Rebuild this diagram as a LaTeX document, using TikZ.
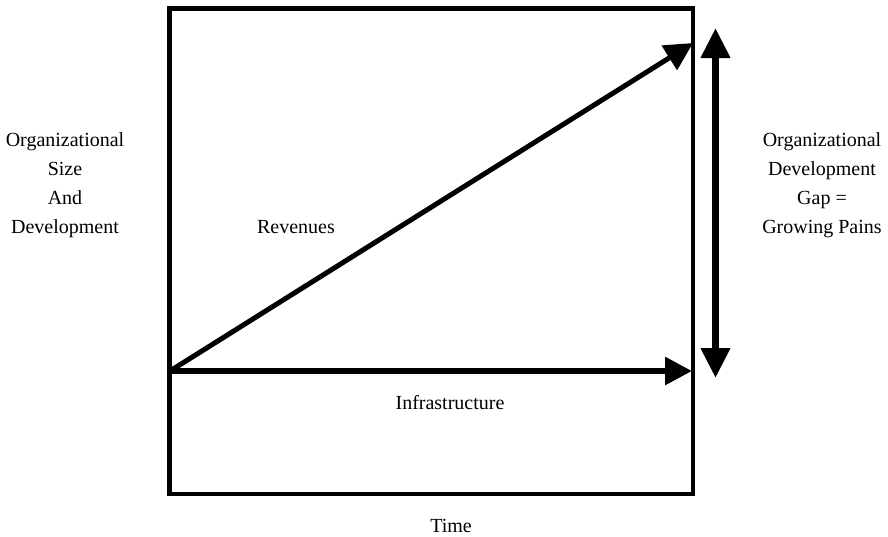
\documentclass[tikz,border=0pt]{standalone}
\usepackage{fontspec}
\setmainfont{Liberation Serif}
\usetikzlibrary{arrows.meta}
\tikzset{
    frame/.style={line width=2.25pt},
    label/.style={inner sep=0pt, align=center, font=\fontsize{10}{14.5}\selectfont},
}
\begin{document}
\begin{tikzpicture}[x=0.5pt,y=-0.5pt]
    \useasboundingbox (0,0) rectangle (888,536);
    \coordinate (origin) at (170,371);
    \coordinate (revtip) at (693,43);
    \coordinate (infratip) at (692,371);
    \coordinate (gaptop) at (715.5,28);
    \coordinate (gapbot) at (715.5,378);
    \draw[frame] (169.5,8.5) rectangle (693,494);
    \draw[line width=2.5pt,-{Triangle[length=14pt,width=14pt]}] (origin) -- (revtip);
    \draw[line width=3pt,-{Triangle[length=13.5pt,width=13.5pt]}] (origin) -- (infratip);
    \draw[line width=3.5pt,{Triangle[length=15pt,width=14pt]}-{Triangle[length=15pt,width=14pt]}] (gapbot) -- (gaptop);
    \node[label] (ylabel) at (65,185) {Organizational\\Size\\And\\Development};
    \node[label] (gaplabel) at (822,185) {Organizational\\Development\\Gap =\\Growing Pains};
    \node[label] (revlabel) at (296,227) {Revenues};
    \node[label] (infralabel) at (450,403) {Infrastructure};
    \node[label] (xlabel) at (451,526) {Time};
\end{tikzpicture}
\end{document}
